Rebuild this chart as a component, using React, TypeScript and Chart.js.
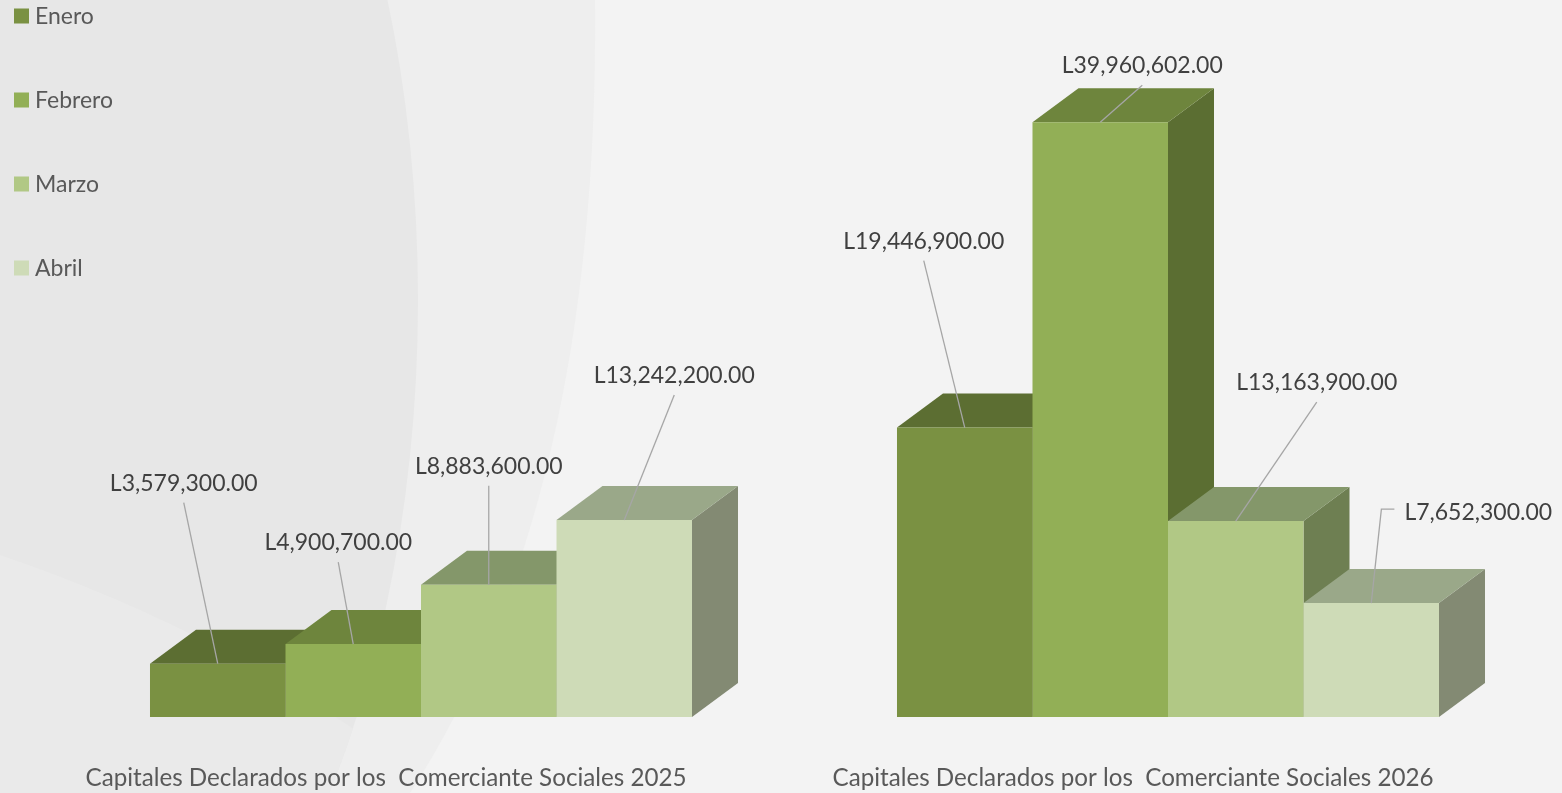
import React, { useEffect, useRef } from "react";
import { Chart, registerables } from "chart.js";

Chart.register(...registerables);

// ---------- data ----------
const categories = [
  "Capitales Declarados por los  Comerciante Sociales 2025",
  "Capitales Declarados por los  Comerciante Sociales 2026",
];
const seriesNames = ["Enero", "Febrero", "Marzo", "Abril"];
const enero = [3579300, 19446900];
const febrero = [4900700, 39960602];
const marzo = [8883600, 13163900];
const abril = [13242200, 7652300];
const seriesValues = [enero, febrero, marzo, abril];

// ---------- styles ----------
const frontColors = ["#7A9142", "#92AF56", "#B1C885", "#CEDBB7"];
const topColors = ["#5C6E32", "#6E853D", "#84976A", "#9AA889"];
const sideColors = ["#4F5F2B", "#5B6E32", "#6E7F52", "#838A73"];
const DEPTH_X = 46;
const DEPTH_Y = 34;
const FONT = "Lato, 'Open Sans', sans-serif";
const FONT_SIZE = 23;
const CAT_FONT_SIZE = 24.2;
const W = 1562;
const H = 793;
const X_AXIS_HEIGHT = 76;

// label placement relative to bar front-top centre: [dx, dy, anchor]
const labelOffsets: [number, number, string][][] = [
  [[-34, -181, "b"], [-41, -187, "b"]],
  [[-15, -102, "b"], [42, -57, "b"]],
  [[0, -119, "b"], [81, -139, "b"]],
  [[50, -145, "b"], [107, -91, "l"]],
];

const fmt = (v: number) =>
  "L" + v.toLocaleString("en-US", { minimumFractionDigits: 2, maximumFractionDigits: 2 });

const backgroundPlugin = {
  id: "bgShapes",
  beforeDraw(chart: any) {
    const { ctx, width, height } = chart;
    ctx.save();
    ctx.fillStyle = "#F3F3F3";
    ctx.fillRect(0, 0, width, height);
    // lighter band
    ctx.beginPath();
    ctx.moveTo(0, 0);
    ctx.lineTo(595, 0);
    ctx.quadraticCurveTo(600, 500, 410, height);
    ctx.lineTo(0, height);
    ctx.closePath();
    ctx.fillStyle = "#EEEEEE";
    ctx.fill();
    // darker big arc
    ctx.beginPath();
    ctx.ellipse(0, 300, 418, 800, 0, 0, Math.PI * 2);
    ctx.fillStyle = "#E7E7E7";
    ctx.fill();
    // diagonal wedge inside the arc
    ctx.save();
    ctx.clip();
    ctx.beginPath();
    ctx.moveTo(0, 555);
    ctx.quadraticCurveTo(250, 640, 440, height);
    ctx.lineTo(0, height);
    ctx.closePath();
    ctx.fillStyle = "#EAEAEA";
    ctx.fill();
    ctx.restore();
    ctx.restore();
  },
};

const bars3dPlugin = {
  id: "bars3d",
  beforeDatasetsDraw(chart: any) {
    const ctx = chart.ctx;
    ctx.save();
    for (let c = 0; c < categories.length; c++) {
      for (let d = 0; d < chart.data.datasets.length; d++) {
        const el = chart.getDatasetMeta(d).data[c];
        if (!el) continue;
        const { x, y, base, width } = el.getProps(["x", "y", "base", "width"], true);
        const left = x - width / 2;
        const right = x + width / 2;
        // side
        ctx.beginPath();
        ctx.moveTo(right, y);
        ctx.lineTo(right + DEPTH_X, y - DEPTH_Y);
        ctx.lineTo(right + DEPTH_X, base - DEPTH_Y);
        ctx.lineTo(right, base);
        ctx.closePath();
        ctx.fillStyle = sideColors[d];
        ctx.fill();
        // top
        ctx.beginPath();
        ctx.moveTo(left, y);
        ctx.lineTo(left + DEPTH_X, y - DEPTH_Y);
        ctx.lineTo(right + DEPTH_X, y - DEPTH_Y);
        ctx.lineTo(right, y);
        ctx.closePath();
        ctx.fillStyle = topColors[d];
        ctx.fill();
      }
    }
    ctx.restore();
  },
  afterDatasetsDraw(chart: any) {
    const ctx = chart.ctx;
    ctx.save();
    ctx.font = `${FONT_SIZE}px ${FONT}`;
    ctx.textAlign = "center";
    ctx.textBaseline = "alphabetic";
    const capHalf = FONT_SIZE * 0.36;
    for (let d = 0; d < chart.data.datasets.length; d++) {
      const meta = chart.getDatasetMeta(d);
      meta.data.forEach((el: any, c: number) => {
        const { x, y } = el.getProps(["x", "y"], true);
        const [dx, dy, anchor] = labelOffsets[d][c];
        const lx = x + dx;
        const ly = y + dy;
        const text = fmt(chart.data.datasets[d].data[c] as number);
        const w = ctx.measureText(text).width;
        ctx.strokeStyle = "#A6A6A6";
        ctx.lineWidth = 1.3;
        ctx.beginPath();
        if (anchor === "l") {
          const tl = lx - w / 2;
          ctx.moveTo(tl - 10, ly - 3);
          ctx.lineTo(tl - 23, ly - 3);
          ctx.lineTo(x, y);
        } else {
          ctx.moveTo(lx, ly + 20);
          ctx.lineTo(x, y);
        }
        ctx.stroke();
        ctx.fillStyle = "#404040";
        ctx.fillText(text, lx, ly + capHalf);
      });
    }
    ctx.restore();
  },
  afterDraw(chart: any) {
    // legend
    const ctx = chart.ctx;
    ctx.save();
    ctx.font = `${FONT_SIZE}px ${FONT}`;
    ctx.textAlign = "left";
    ctx.textBaseline = "alphabetic";
    chart.data.datasets.forEach((ds: any, i: number) => {
      const cy = 16 + i * 84;
      ctx.fillStyle = ds.backgroundColor;
      ctx.fillRect(14, cy - 7.5, 15, 15);
      ctx.fillStyle = "#595959";
      ctx.fillText(ds.label, 35, cy + FONT_SIZE * 0.36);
    });
    ctx.restore();
  },
};

export default function App() {
  const ref = useRef<HTMLCanvasElement | null>(null);
  useEffect(() => {
    if (!ref.current) return;
    const chart = new Chart(ref.current, {
      type: "bar",
      data: {
        labels: categories,
        datasets: seriesNames.map((name, i) => ({
          label: name,
          data: seriesValues[i],
          backgroundColor: frontColors[i],
          borderWidth: 0,
          categoryPercentage: 0.7256,
          barPercentage: 1,
        })),
      },
      options: {
        animation: false,
        responsive: false,
        layout: { padding: { left: 47.5, right: 20.5, top: 10, bottom: 0 } },
        plugins: {
          legend: { display: false },
          tooltip: { enabled: false },
        },
        scales: {
          x: {
            grid: { display: false, drawTicks: false },
            border: { display: false },
            afterFit: (scale: any) => {
              scale.height = X_AXIS_HEIGHT;
            },
            ticks: {
              padding: 47,
              labelOffset: -35,
              maxRotation: 0,
              autoSkip: false,
              color: "#595959",
              font: { family: FONT, size: CAT_FONT_SIZE },
            },
          },
          y: { display: false, min: 0, max: 47.5e6 },
        },
      },
      plugins: [backgroundPlugin, bars3dPlugin],
    });
    return () => chart.destroy();
  }, []);
  return (
    <div style={{ position: "fixed", left: 0, top: 0, width: W, height: H, overflow: "hidden" }}>
      <canvas ref={ref} width={W} height={H} style={{ display: "block", width: W, height: H }} />
    </div>
  );
}
